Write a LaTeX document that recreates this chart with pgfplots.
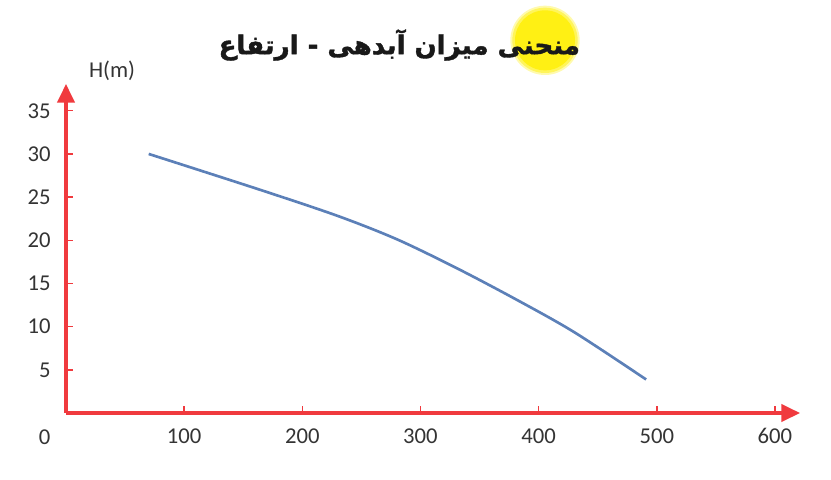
\documentclass[border=0pt]{standalone}
\usepackage{pgfplots}
\pgfplotsset{compat=1.18}
\usetikzlibrary{arrows.meta}
\usepackage{fontspec}
\setmainfont{Carlito}
\newfontfamily\arabicfont[Script=Arabic, BoldFeatures={FakeBold=1.5}]{DejaVu Sans}
\TeXXeTstate=1
\definecolor{axred}{RGB}{240,58,62}
\definecolor{curve}{RGB}{92,128,184}
\definecolor{labgray}{RGB}{52,52,52}
\definecolor{hiyel}{RGB}{255,240,20}
\pgfplotstableread{
x y
70 30.0
164 25.86
230 22.82
280 20.12
330 16.82
380 13.22
430 9.37
491 3.88
}\curvedata
\begin{document}
\begin{tikzpicture}
\fill[hiyel!35] (359.25pt,279.5pt) circle (26pt);
\fill[hiyel!70] (359.25pt,279.5pt) circle (24.5pt);
\fill[hiyel] (359.25pt,279.5pt) circle (22.5pt);
\node[font=\arabicfont\bfseries\fontsize{19.5}{24}\selectfont, text=black!90] at (250pt,276pt) {\beginR منحنی میزان آبدهی - ارتفاع\endR};
\begin{axis}[
  scale only axis,
  width=550.5pt, height=246.75pt,
  xmin=0, xmax=621.2, ymin=0, ymax=38.1,
  axis lines=left,
  axis line style={axred, line width=2.6pt},
  x axis line style={-{Triangle[length=14pt,width=13pt]}},
  y axis line style={-{Triangle[length=14pt,width=13pt]}},
  xtick={100,200,300,400,500,600},
  ytick={5,10,15,20,25,30,35},
  tick align=inside,
  major tick length=5pt,
  tick style={axred, line width=1.1pt},
  ticklabel style={text=labgray, font=\fontsize{17}{19}\selectfont},
  /pgf/number format/assume math mode=true,
  xticklabel style={yshift=-8pt},
  yticklabel style={xshift=-8pt},
  clip=false,
]
\addplot[curve, line width=2pt, smooth, tension=0.5] table[x=x,y=y] {\curvedata};
\node[text=labgray, font=\fontsize{17}{19}\selectfont] at (axis cs:-18,-2.8) {0};
\end{axis}
\node[text=labgray, font=\fontsize{17}{19}\selectfont] at (34.5pt,256.5pt) {H(m)};
\useasboundingbox (-49.5pt,-49.5pt) rectangle (573.75pt,309.75pt);
\end{tikzpicture}
\end{document}
